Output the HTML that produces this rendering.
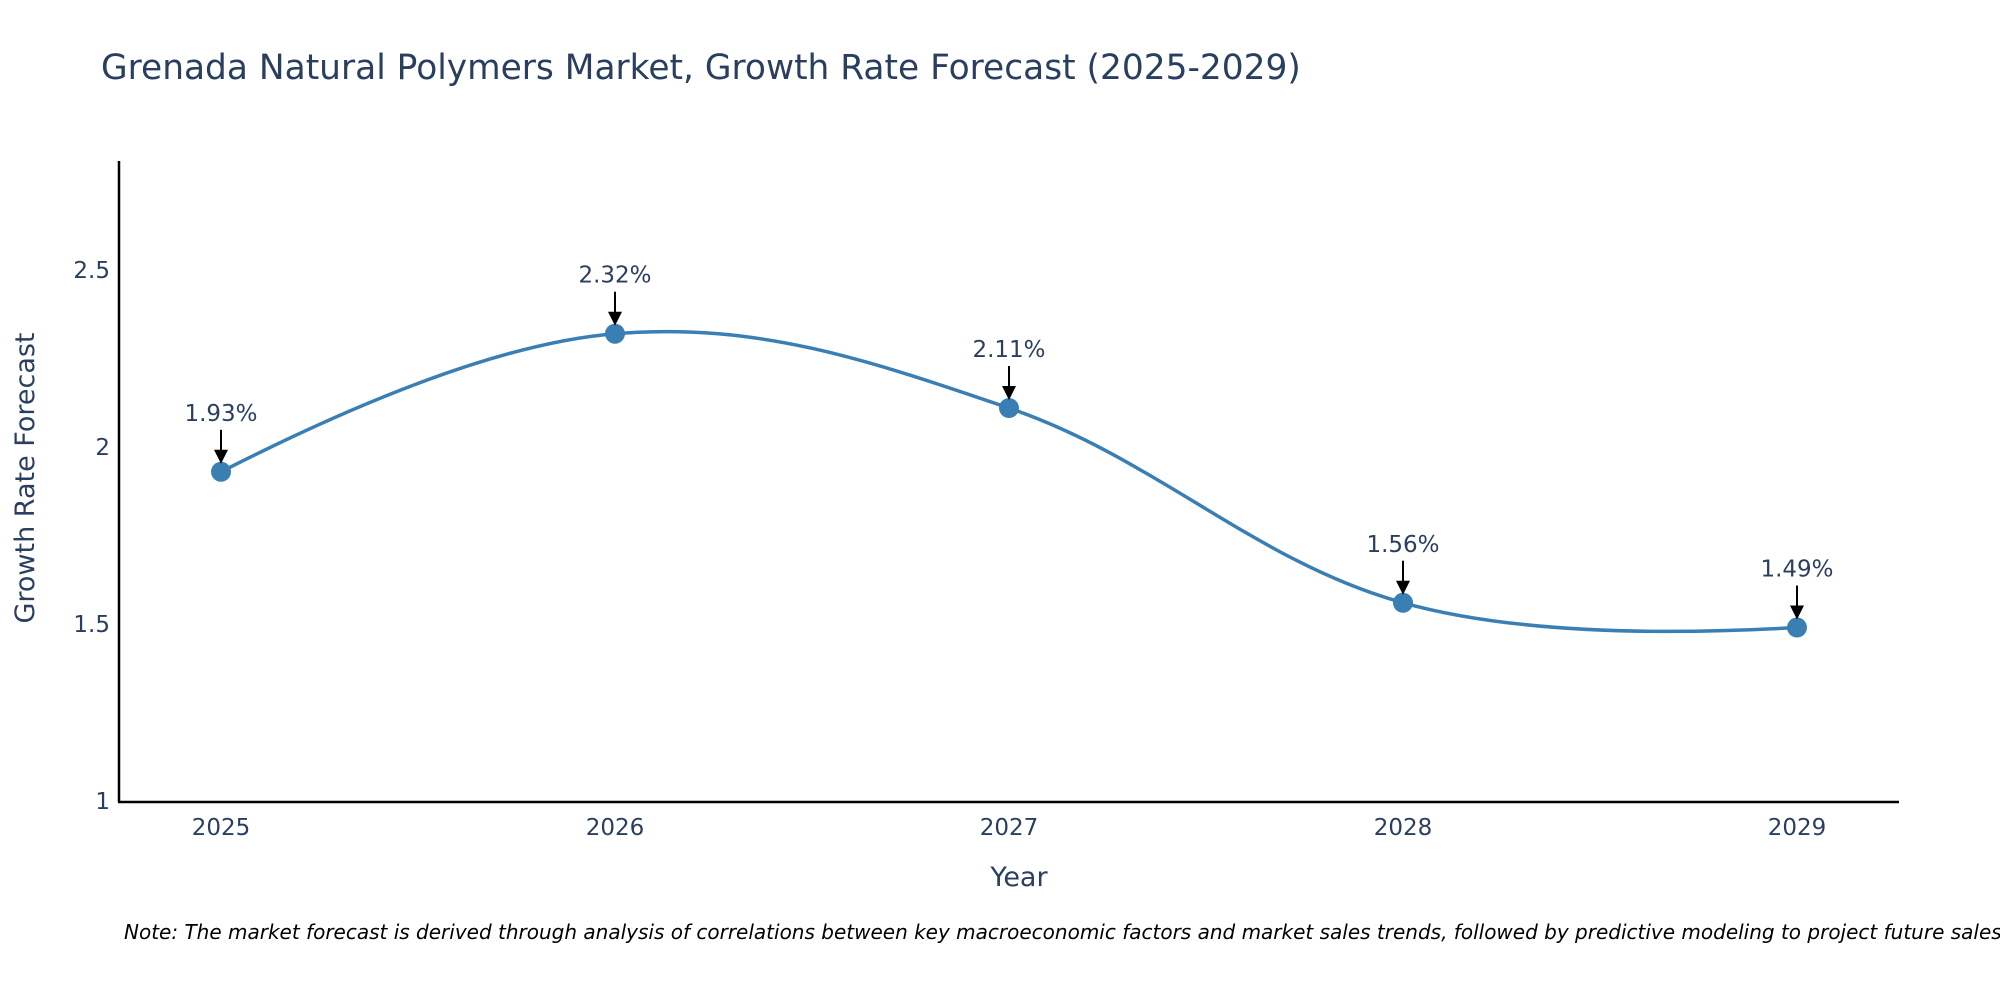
<!DOCTYPE html>
<html><head><meta charset="utf-8"><style>
html,body{margin:0;padding:0;background:#fff;overflow:hidden;}
svg{display:block;font-family:"DejaVu Sans","Liberation Sans",sans-serif;}
</style></head><body>
<svg id="chart" width="2000" height="1000" viewBox="0 0 2000 1000">
<text x="101" y="79" font-size="34.4" fill="#2a3f5f">Grenada Natural Polymers Market, Growth Rate Forecast (2025-2029)</text>
<line x1="119" y1="161" x2="119" y2="802" stroke="#000" stroke-width="2.5"/>
<line x1="118" y1="802" x2="1899" y2="802" stroke="#000" stroke-width="2.5"/>
<g id="yticks"></g><g id="xticks"></g>
<text x="1019" y="886" font-size="27" fill="#2a3f5f" text-anchor="middle">Year</text>
<text transform="translate(34,478) rotate(-90)" font-size="27" fill="#2a3f5f" text-anchor="middle">Growth Rate Forecast</text>
<path id="line" fill="none" stroke="#3a7fb4" stroke-width="3.5"/>
<g id="marks"></g>
<text x="124" y="939" font-size="20" font-style="italic" fill="#000">Note: The market forecast is derived through analysis of correlations between key macroeconomic factors and market sales trends, followed by predictive modeling to project future sales.</text>
</svg>
<script>
const years = [2025, 2026, 2027, 2028, 2029];
const rates = [1.93, 2.32, 2.11, 1.56, 1.49];
const yTicks = [1, 1.5, 2, 2.5];
const yTickLabels = ["1", "1.5", "2", "2.5"];

const NS = "http://www.w3.org/2000/svg";
const xs = v => 221 + (v - 2025) * 394;
const ys = v => 801 - (v - 1) * 354;
function mk(tag, attrs, parent, txt){const e=document.createElementNS(NS,tag);for(const k in attrs)e.setAttribute(k,attrs[k]);if(txt!==undefined)e.textContent=txt;document.getElementById(parent).appendChild(e);return e;}

yTicks.forEach((t,i)=>{
  const e=mk('text',{x:110,y:ys(t)+8,'font-size':23,fill:'#2a3f5f','text-anchor':'end'},'yticks',yTickLabels[i]);
  
  
});
years.forEach(y=>{
  const e=mk('text',{x:xs(y),y:835,'font-size':23,fill:'#2a3f5f','text-anchor':'middle'},'xticks',String(y));
  
  
});

const pts = years.map((y,i)=>[xs(y), ys(rates[i])]);
const sm = 1;
const ctrl = [];
for(let i=1;i<pts.length-1;i++){
  const p0=pts[i-1],p1=pts[i],p2=pts[i+1];
  const d1=Math.pow(Math.hypot(p1[0]-p0[0],p1[1]-p0[1]),0.5);
  const d2=Math.pow(Math.hypot(p2[0]-p1[0],p2[1]-p1[1]),0.5);
  const dx=p2[0]-p0[0], dy=p2[1]-p0[1];
  const f1=sm*d1/(3*(d1+d2))*1.1, f2=sm*d2/(3*(d1+d2))*1.1;
  ctrl.push([[p1[0]-dx*f1,p1[1]-dy*f1],[p1[0]+dx*f2,p1[1]+dy*f2]]);
}
let d=`M${pts[0][0]},${pts[0][1]} Q${ctrl[0][0][0]},${ctrl[0][0][1]} ${pts[1][0]},${pts[1][1]}`;
for(let i=1;i<pts.length-2;i++){
  d+=` C${ctrl[i-1][1][0]},${ctrl[i-1][1][1]} ${ctrl[i][0][0]},${ctrl[i][0][1]} ${pts[i+1][0]},${pts[i+1][1]}`;
}
const last=ctrl[ctrl.length-1][1], n=pts.length-1;
d+=` Q${last[0]},${last[1]} ${pts[n][0]},${pts[n][1]}`;
document.getElementById('line').setAttribute('d',d);

pts.forEach((p,i)=>{
  const c=mk('circle',{cx:p[0],cy:p[1],r:10,fill:'#3a7fb4'},'marks');
  
  
  const l=mk('line',{x1:p[0],y1:p[1]-42,x2:p[0],y2:p[1]-20,stroke:'#000','stroke-width':2},'marks');
  
  
  const h=mk('path',{d:`M${p[0]-7},${p[1]-22} L${p[0]+7},${p[1]-22} L${p[0]},${p[1]-8} Z`,fill:'#000'},'marks');
  
  
  const t=mk('text',{x:p[0],y:p[1]-51,'font-size':23,fill:'#2a3f5f','text-anchor':'middle'},'marks',rates[i].toFixed(2)+'%');
  
  
});
</script>
</body></html>
